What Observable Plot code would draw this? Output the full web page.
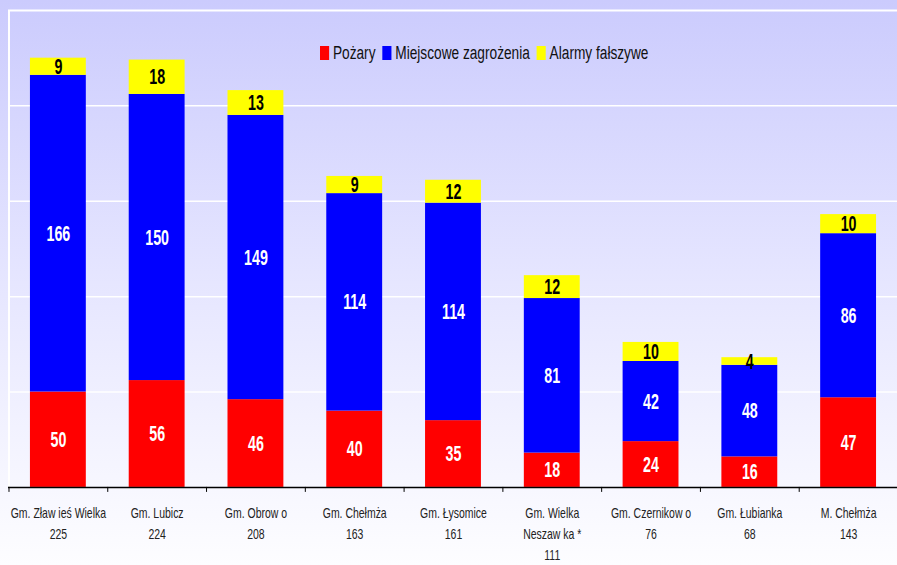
<!DOCTYPE html>
<html>
<head>
<meta charset="utf-8">
<script src="https://cdn.jsdelivr.net/npm/d3@7"></script>
<script src="https://cdn.jsdelivr.net/npm/@observablehq/plot@0.6"></script>
<style>
html,body{margin:0;padding:0;}
body{width:897px;height:565px;overflow:hidden;position:relative;
  background:linear-gradient(to bottom,#cbcbfd 0%,#d6d6fe 20%,#e6e6ff 50%,#f4f4ff 80%,#fdfdff 100%);
  font-family:"Liberation Sans",Arial,sans-serif;}
#chart{position:absolute;left:0;top:0;}
#legend{position:absolute;left:320px;top:44px;white-space:nowrap;transform-origin:0 50%;transform:scaleX(0.76);
  font-size:18px;line-height:18px;color:#111;}
#legend span.sw{display:inline-block;width:12px;height:14px;vertical-align:-1px;margin-right:5px;}
#legend span.lb{margin-right:9px;}
</style>
</head>
<body>
<div id="chart"></div>
<div id="legend"></div>
<script>
const names = ["Gm. Zław ieś Wielka","Gm. Lubicz","Gm. Obrow o","Gm. Chełmża","Gm. Łysomice","Gm. Wielka\nNeszaw ka *","Gm. Czernikow o","Gm. Łubianka","M. Chełmża"];
const totals = [225,224,208,163,161,111,76,68,143];
const pozary = [50,56,46,40,35,18,24,16,47];
const miejscowe = [166,150,149,114,114,81,42,48,86];
const alarmy = [9,18,13,9,12,12,10,4,10];
const series = ["Pożary","Miejscowe zagrożenia","Alarmy fałszywe"];
const colors = ["#ff0000","#0000ff","#ffff00"];
const gridValues = [50,100,150,200];

const data = names.flatMap((c,i)=>[
  {cat:c, series:series[0], value:pozary[i]},
  {cat:c, series:series[1], value:miejscowe[i]},
  {cat:c, series:series[2], value:alarmy[i]}
]);

const W = 899, H = 565, mL = 8, mR = 0, mT = 10, mB = 77;
const step = (W - mL - mR) / names.length;

const plot = Plot.plot({
  width: W, height: H,
  marginLeft: mL, marginRight: mR, marginTop: mT, marginBottom: mB,
  style: {background: "transparent", overflow: "visible", fontFamily: "Liberation Sans, Arial, sans-serif"},
  x: {domain: names, paddingInner: 0.435, paddingOuter: 0.2175, label: null},
  y: {domain: [0, 250], axis: null},
  color: {domain: series, range: colors},
  marks: [
    Plot.ruleY(gridValues, {stroke: "white", strokeWidth: 1.5}),
    Plot.ruleY([250], {stroke: "white", strokeWidth: 2}),
    Plot.ruleX([names[0]], {x: d => d, dx: -step/2, y1: 0, y2: 250, stroke: "white", strokeWidth: 2}),
    Plot.barY(data, {x: "cat", y: "value", fill: "series"}),
    Plot.textY(data, Plot.stackY({x: "cat", y: "value", z: "series",
      text: d => d.series !== series[2] ? String(d.value) : "",
      fill: "white", fontWeight: "bold", fontSize: 22})),
    Plot.textY(data, Plot.stackY({x: "cat", y: "value", z: "series",
      text: d => d.series === series[2] ? String(d.value) : "",
      fill: "black", fontWeight: "bold", fontSize: 22})),
    Plot.ruleY([0], {stroke: "black", strokeWidth: 1.5}),
    Plot.axisX({tickSize: 5, tickFormat: () => "", dx: -step/2, stroke: "black", label: null}),
    Plot.text(names, {x: d => d, text: (d,i) => d + "\n" + totals[i], frameAnchor: "bottom",
      lineAnchor: "top", dy: 16, lineHeight: 1.5, fontSize: 14, fill: "#222"})
  ]
});
document.getElementById("chart").appendChild(plot);

function squeeze(g, s) {
  g.querySelectorAll("text").forEach(el => {
    const t = el.getAttribute("transform") || "";
    const xa = el.getAttribute("x"), ya = el.getAttribute("y");
    let extra = "";
    if (xa !== null && !isNaN(+xa) && ya !== null && !isNaN(+ya)) {
      extra = ` translate(${+xa},${+ya})`;
      el.removeAttribute("x"); el.removeAttribute("y");
    } else if (xa !== null && !isNaN(+xa) && ya === null) {
      extra = ` translate(${+xa},0)`; el.removeAttribute("x");
    }
    el.setAttribute("transform", `${t}${extra} scale(${s},1)`);
  });
}
const textGroups = plot.querySelectorAll('g[aria-label="text"]');
squeeze(textGroups[0], 0.65);
squeeze(textGroups[1], 0.65);
squeeze(textGroups[2], 0.75);

const lg = document.getElementById("legend");
series.forEach((s,i) => {
  const sw = document.createElement("span"); sw.className = "sw"; sw.style.background = colors[i];
  const lb = document.createElement("span"); lb.className = "lb"; lb.textContent = s;
  lg.appendChild(sw); lg.appendChild(lb);
});
</script>
</body>
</html>
